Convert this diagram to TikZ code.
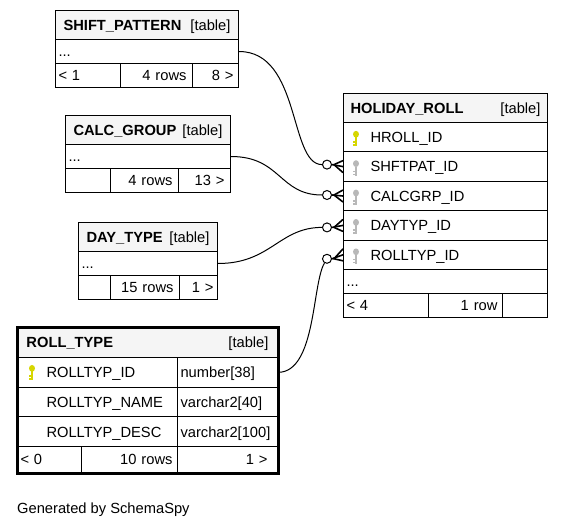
\documentclass[tikz,border=0pt]{standalone}
\usepackage{fontspec}
\setmainfont{Liberation Sans}
\usepackage{tikz}
\usetikzlibrary{calc, positioning}
\setlength{\parindent}{0pt}
\definecolor{headgray}{RGB}{245,245,245}
\definecolor{pkyellow}{RGB}{214,214,0}
\definecolor{fkgray}{RGB}{184,184,184}
\tikzstyle{cell}=[draw, shape=rectangle, anchor=north west, inner ysep=0pt, inner xsep=4pt, line width=1pt, text height=10.5pt, text depth=0pt, align=left, font=\fontsize{14.7}{16}\selectfont]
\tikzstyle{hdr}=[cell, fill=headgray, minimum height=29pt]
\tikzstyle{dotrow}=[cell, inner xsep=3pt, minimum height=24pt]
\tikzstyle{footcell}=[cell, minimum height=24pt]
\tikzstyle{fld}=[cell, minimum height=29.4pt, execute at begin node={\hspace*{23pt}}]
\tikzstyle{ring}=[draw, shape=circle, fill=white, inner sep=0pt, minimum size=9pt, line width=1pt]
\tikzstyle{rel}=[line width=1pt]
\tikzstyle{crow}=[line width=1.6pt]
\newcommand{\keyicon}[2]{%
  \begin{scope}[shift={#2}]
    \fill[#1] (0,-4) ellipse (3 and 3.4);
    \fill[#1] (-1,-1) rectangle (1,8);
    \fill[#1] (-3,3) rectangle (-1,4.5);
    \fill[#1] (-3,6) rectangle (-1,7.5);
  \end{scope}}

\begin{document}
\begin{tikzpicture}[x=1pt, y=-1pt]
\useasboundingbox (0,0) rectangle (563,528);
% the table SHIFT_PATTERN
\node[hdr, inner xsep=8pt, text width=167pt] (sp) at (55,10) {\textbf{SHIFT\_PATTERN}\hfill[table]};
\node[dotrow, text width=177pt] (sp-dots) at (55,39) {...};
\node[footcell, inner xsep=3pt, text width=59pt] (sp-f1) at (55,63) {< 1};
\node[footcell, inner xsep=6pt, text width=60pt, align=right] (sp-f2) at (120,63) {4 rows};
\node[footcell, inner xsep=5pt, text width=36pt, align=right] (sp-f3) at (192,63) {8 >};
% the table CALC_GROUP
\node[hdr, inner xsep=8pt, text width=149pt] (cg) at (65,115) {\textbf{CALC\_GROUP}\hfill[table]};
\node[dotrow, text width=159pt] (cg-dots) at (65,144) {...};
\node[footcell, inner xsep=3pt, text width=39pt] (cg-f1) at (65,168) {};
\node[footcell, inner xsep=6pt, text width=56pt, align=right] (cg-f2) at (110,168) {4 rows};
\node[footcell, inner xsep=6pt, text width=40pt, align=right] (cg-f3) at (178,168) {13 >};
% the table DAY_TYPE
\node[hdr, inner xsep=8pt, text width=123pt] (dt) at (78,222) {\textbf{DAY\_TYPE}\hfill[table]};
\node[dotrow, text width=133pt] (dt-dots) at (78,251) {...};
\node[footcell, inner xsep=3pt, text width=26pt] (dt-f1) at (78,275) {};
\node[footcell, inner xsep=6pt, text width=57pt, align=right] (dt-f2) at (110,275) {15 rows};
\node[footcell, inner xsep=4pt, text width=30pt, align=right] (dt-f3) at (179,275) {1 >};
% the table HOLIDAY_ROLL
\node[hdr, inner xsep=7pt, text width=190pt] (hr) at (343,93) {\textbf{HOLIDAY\_ROLL}\hfill[table]};
\node[fld, text width=196pt] (hr-id) at (343,122) {HROLL\_ID};
\node[fld, text width=196pt] (hr-shftpat) at (343,151.4) {SHFTPAT\_ID};
\node[fld, text width=196pt] (hr-calcgrp) at (343,180.8) {CALCGRP\_ID};
\node[fld, text width=196pt] (hr-daytyp) at (343,210.2) {DAYTYP\_ID};
\node[fld, text width=196pt] (hr-rolltyp) at (343,239.6) {ROLLTYP\_ID};
\node[dotrow, text width=198pt] (hr-dots) at (343,269) {...};
\node[footcell, inner xsep=3pt, text width=79pt] (hr-f1) at (343,293) {< 4};
\node[footcell, inner xsep=5pt, text width=64pt, align=right] (hr-f2) at (428,293) {1 row};
\node[footcell, inner xsep=4pt, text width=37pt] (hr-f3) at (502,293) {};
\keyicon{pkyellow}{($(hr-id.west)+(13,1)$)}
\keyicon{fkgray}{($(hr-shftpat.west)+(13,1)$)}
\keyicon{fkgray}{($(hr-calcgrp.west)+(13,1)$)}
\keyicon{fkgray}{($(hr-daytyp.west)+(13,1)$)}
\keyicon{fkgray}{($(hr-rolltyp.west)+(13,1)$)}
% the table ROLL_TYPE
\node[hdr, inner xsep=9pt, text width=242pt, minimum height=30pt] (rt) at (17,327) {\textbf{ROLL\_TYPE}\hfill[table]};
\node[fld, inner xsep=6pt, text width=148pt, minimum height=29.7pt] (rt-id) at (17,357) {ROLLTYP\_ID};
\node[fld, inner xsep=6pt, text width=148pt, minimum height=29.7pt] (rt-name) at (17,386.7) {ROLLTYP\_NAME};
\node[fld, inner xsep=6pt, text width=148pt, minimum height=29.7pt] (rt-desc) at (17,416.4) {ROLLTYP\_DESC};
\node[cell, inner xsep=3pt, text width=94pt, minimum height=29.7pt] (rt-idtype) at (177,357) {number[38]};
\node[cell, inner xsep=3pt, text width=94pt, minimum height=29.7pt] (rt-nametype) at (177,386.7) {varchar2[40]};
\node[cell, inner xsep=3pt, text width=94pt, minimum height=29.7pt] (rt-desctype) at (177,416.4) {varchar2[100]};
\node[footcell, inner xsep=3pt, text width=58pt, minimum height=26pt] (rt-f1) at (17,446.1) {< 0};
\node[footcell, inner xsep=5pt, text width=86pt, minimum height=26pt, align=right] (rt-f2) at (81,446.1) {10 rows};
\node[footcell, inner xsep=10pt, text width=80pt, minimum height=26pt, align=right] (rt-f3) at (177,446.1) {1 >};
\draw[line width=3pt] (rt.north west) rectangle (rt-f3.south east);
\keyicon{pkyellow}{($(rt-id.west)+(15,0)$)}
% the relations
\node[ring] (r1) at ($(hr-shftpat.west)+(-16,-2)$) {};
\node[ring] (r2) at ($(hr-calcgrp.west)+(-16,-1)$) {};
\node[ring] (r3) at ($(hr-daytyp.west)+(-16,2)$) {};
\node[ring] (r4) at ($(hr-rolltyp.west)+(-16,4)$) {};
\draw[rel] (sp-dots.east) .. controls +(62,0) and +(-38,0) .. (r1);
\draw[rel] (cg-dots.east) .. controls +(50,0) and +(-48,0) .. (r2);
\draw[rel] (dt-dots.east) .. controls +(53,0) and +(-48,0) .. (r3);
\draw[rel] (rt-idtype.east) .. controls +(38,0) and +(-15,25) .. (r4);
\foreach \f/\r in {hr-shftpat/r1, hr-calcgrp/r2, hr-daytyp/r3, hr-rolltyp/r4} {
  \draw[crow] ($(\f.west)+(0,-6)$) -- ($(\r.east)+(2,0)$) -- ($(\f.west)+(0,6)$);
  \draw[crow] (\r.east) -- (\f.west);
}
% the footer
\node[anchor=base west, inner sep=0pt, font=\fontsize{14.7}{16}\selectfont] (gen) at (17,513) {Generated by SchemaSpy};
\end{tikzpicture}
\end{document}
